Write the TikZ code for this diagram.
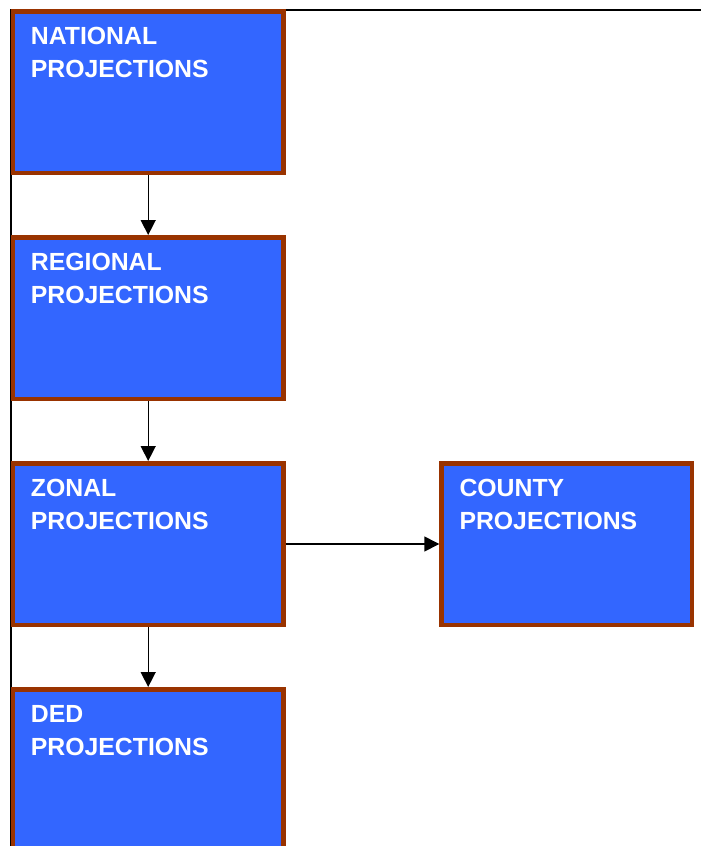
\documentclass[tikz,border=0pt]{standalone}
\usepackage{fontspec}
\setmainfont{Liberation Sans}
\usetikzlibrary{arrows.meta}
\definecolor{boxblue}{HTML}{3366FF}
\definecolor{boxbrown}{HTML}{993300}
\tikzset{
  projbox/.style={draw=boxbrown, fill=boxblue, line width=4.5pt, minimum width=270.5pt, minimum height=161.5pt, inner sep=0pt, anchor=north west},
  boxtext/.style={anchor=base west, inner sep=0pt, text=white, font=\fontsize{24.8}{33}\selectfont\bfseries, align=left},
  link/.style={line width=1.4pt, -{Triangle[length=15pt,width=15pt]}},
  frame/.style={line width=1.4pt}
}
\begin{document}
\begin{tikzpicture}[x=1pt,y=-1pt]
\clip (0,0) rectangle (701,846);
\coordinate (tl) at (11,10);
\coordinate (tr) at (701,10);
\coordinate (bl) at (11,846);
\draw[frame] (tr) -- (tl) -- (bl);
\node[projbox] (nat) at (10.7,9) {};
\node[projbox] (reg) at (10.7,235) {};
\node[projbox] (zon) at (10.7,461) {};
\node[projbox] (ded) at (10.7,687) {};
\node[projbox, minimum width=250.2pt] (cty) at (439.3,461) {};
\node[boxtext] (natt) at ([shift={(20,68.3)}]nat.north west) {NATIONAL\\PROJECTIONS};
\node[boxtext] (regt) at ([shift={(20,68.3)}]reg.north west) {REGIONAL\\PROJECTIONS};
\node[boxtext] (zont) at ([shift={(20,68.3)}]zon.north west) {ZONAL\\PROJECTIONS};
\node[boxtext] (dedt) at ([shift={(20,68.3)}]ded.north west) {DED\\PROJECTIONS};
\node[boxtext] (ctyt) at ([shift={(20,68.3)}]cty.north west) {COUNTY\\PROJECTIONS};
\draw[link] (nat.south) -- (reg.north);
\draw[link] (reg.south) -- (zon.north);
\draw[link] (zon.south) -- (ded.north);
\draw[link] (zon.east) -- (cty.west);
\end{tikzpicture}
\end{document}
